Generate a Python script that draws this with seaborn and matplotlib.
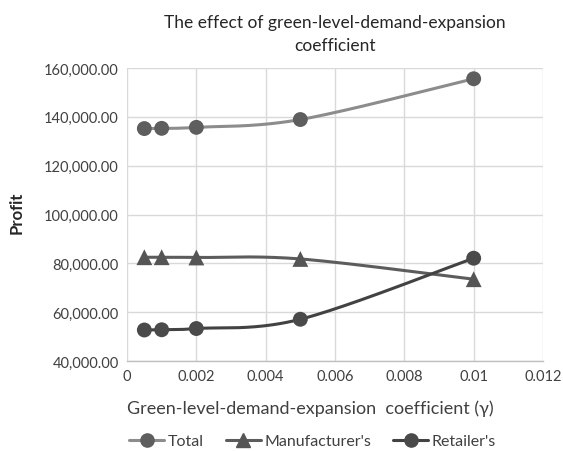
import numpy as np
import pandas as pd
import matplotlib
matplotlib.use("Agg")
import matplotlib.pyplot as plt
from matplotlib.lines import Line2D
from matplotlib.ticker import FuncFormatter, MultipleLocator
import seaborn as sns

# Green-level-demand-expansion coefficient (gamma) and profits
gamma = [0.0005, 0.001, 0.002, 0.005, 0.01]
total = [135200, 135300, 135700, 138900, 155600]
manufacturer = [82500, 82500, 82400, 81800, 73500]
retailer = [52700, 52800, 53300, 57100, 82100]
series_names = ["Total", "Manufacturer's", "Retailer's"]

x_ticks = [0, 0.002, 0.004, 0.006, 0.008, 0.01, 0.012]
x_tick_labels = ["0", "0.002", "0.004", "0.006", "0.008", "0.01", "0.012"]

sns.set_theme(style="whitegrid")
plt.rcParams["font.family"] = ["Lato", "DejaVu Sans"]

fig = plt.figure(figsize=(5.63, 4.52), dpi=100)
ax = fig.add_axes([0.2256, 0.1991, 0.7389, 0.6482])

XMIN, XMAX, YMIN, YMAX = 0.0, 0.012, 40000, 160000
W_PX, H_PX = 416.0, 293.0


def smooth(xs, ys, n=40):
    """Smoothed line: cubic Bezier through the points, tension 1/6."""
    px = (np.asarray(xs) - XMIN) / (XMAX - XMIN) * W_PX
    py = (np.asarray(ys, dtype=float) - YMIN) / (YMAX - YMIN) * H_PX
    P = np.column_stack([px, py])
    k = len(P)
    out = []
    for i in range(k - 1):
        p0 = P[max(i - 1, 0)]
        p1 = P[i]
        p2 = P[i + 1]
        p3 = P[min(i + 2, k - 1)]
        c1 = p1 + (p2 - p0) / 6.0
        c2 = p2 - (p3 - p1) / 6.0
        t = np.linspace(0, 1, n)[:, None]
        seg = ((1 - t) ** 3) * p1 + 3 * ((1 - t) ** 2) * t * c1 + 3 * (1 - t) * t ** 2 * c2 + t ** 3 * p2
        out.append(seg if i == 0 else seg[1:])
    S = np.vstack(out)
    sx = S[:, 0] / W_PX * (XMAX - XMIN) + XMIN
    sy = S[:, 1] / H_PX * (YMAX - YMIN) + YMIN
    return sx, sy


styles = {
    "Total": dict(line="#8c8c8c", marker="o", mcolor="#5e5e5e", ms=115),
    "Manufacturer's": dict(line="#5c5c5c", marker="^", mcolor="#555555", ms=130),
    "Retailer's": dict(line="#424242", marker="o", mcolor="#4a4a4a", ms=115),
}

for name, vals in zip(series_names, [total, manufacturer, retailer]):
    st = styles[name]
    sx, sy = smooth(gamma, vals)
    curve = pd.DataFrame({"gamma": sx, "profit": sy})
    sns.lineplot(data=curve, x="gamma", y="profit", sort=False, ax=ax,
                 color=st["line"], linewidth=2.2, zorder=3)
    pts = pd.DataFrame({"gamma": gamma, "profit": vals})
    sns.scatterplot(data=pts, x="gamma", y="profit", ax=ax, marker=st["marker"],
                    color=st["mcolor"], s=st["ms"], edgecolor="none", zorder=4)

ax.set_xlim(XMIN, XMAX)
ax.set_ylim(YMIN, YMAX)
ax.set_xticks(x_ticks)
ax.set_xticklabels(x_tick_labels)
ax.yaxis.set_major_locator(MultipleLocator(20000))
ax.yaxis.set_major_formatter(FuncFormatter(lambda v, p: f"{v:,.2f}"))

ax.grid(True, color="#d9d9d9", linewidth=1.0)
for s in ["top", "right", "left"]:
    ax.spines[s].set_visible(False)
ax.spines["bottom"].set_color("#bfbfbf")
ax.spines["bottom"].set_linewidth(1.0)
ax.tick_params(axis="both", colors="#595959", labelsize=10.5, length=0, pad=6)
for lab in ax.get_xticklabels() + ax.get_yticklabels():
    lab.set_color("#404040")

ax.set_xlabel("Green-level-demand-expansion  coefficient (\u03b3)", fontsize=13,
              color="#404040", labelpad=12)
ax.xaxis.set_label_coords(0.44, -0.13)
ax.set_ylabel("Profit", fontsize=12, fontweight="bold", color="#262626")
ax.yaxis.set_label_coords(-0.245, 0.51)
ax.set_title("The effect of green-level-demand-expansion\ncoefficient", fontsize=12.5,
             color="#262626", pad=13, linespacing=1.55)

handles = []
for name in series_names:
    st = styles[name]
    handles.append(Line2D([0], [0], color=st["line"], linewidth=2.2, marker=st["marker"],
                          markersize=9.5, markerfacecolor=st["mcolor"],
                          markeredgecolor=st["mcolor"]))
fig.legend(handles, series_names, loc="center", bbox_to_anchor=(0.555, 0.022),
           ncol=3, frameon=False, fontsize=11.5, handlelength=2.2, handletextpad=0.2,
           columnspacing=1.4, labelcolor="#404040")

fig.savefig("out.png", dpi=100)
